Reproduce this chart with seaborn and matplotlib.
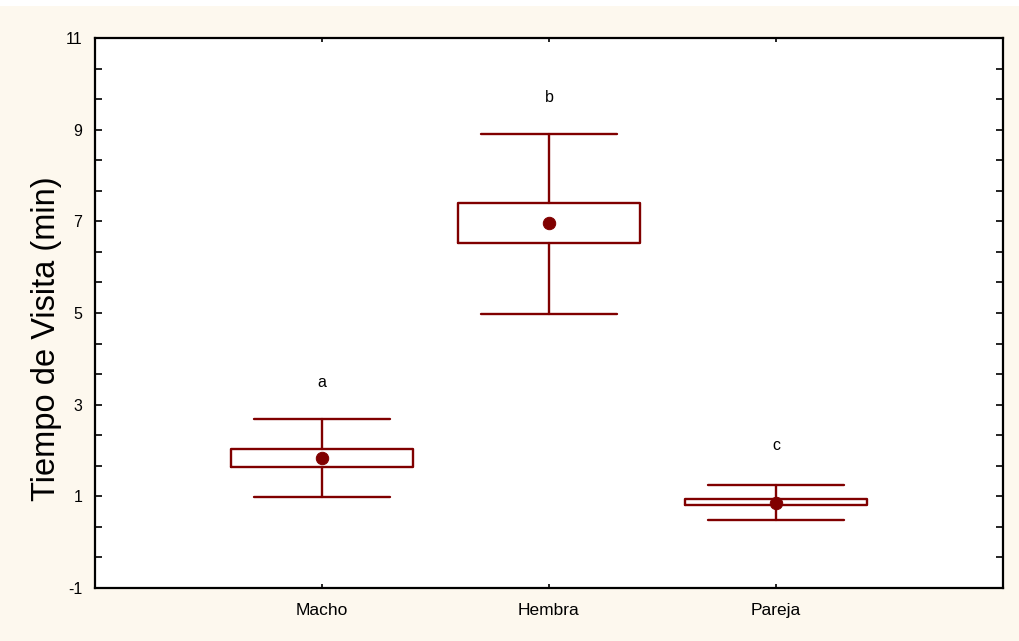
import numpy as np
import pandas as pd
import seaborn as sns
import matplotlib.pyplot as plt
from matplotlib.ticker import FixedLocator

# datos
grupos    = ["Macho", "Hembra", "Pareja"]
medias    = [1.83, 6.96, 0.85]
caja_inf  = [1.65, 6.52, 0.82]
caja_sup  = [2.03, 7.39, 0.95]
bigote_inf = [0.98, 4.97, 0.48]
bigote_sup = [2.68, 8.90, 1.24]
letras    = ["a", "b", "c"]
letras_y  = [3.49, 9.71, 2.11]
y_ticks   = [-1, 1, 3, 5, 7, 9, 11]

ROJO  = "#800000"
CREMA = "#FDF8EE"

sns.set_style("ticks")
plt.rcParams["font.family"] = ["Liberation Sans", "DejaVu Sans"]
plt.rcParams["axes.unicode_minus"] = False
plt.rcParams["text.color"] = "black"
plt.rcParams["xtick.color"] = "black"
plt.rcParams["ytick.color"] = "black"
plt.rcParams["axes.labelcolor"] = "black"

df = pd.DataFrame({"grupo": grupos, "media": medias})

fig = plt.figure(figsize=(10.2, 6.41), dpi=100, facecolor=CREMA)
ax = fig.add_axes([0.0931, 0.0827, 0.8902, 0.858])
ax.set_facecolor("white")

stats = []
for i, g in enumerate(grupos):
    stats.append({"label": g, "med": medias[i], "q1": caja_inf[i], "q3": caja_sup[i],
                  "whislo": bigote_inf[i], "whishi": bigote_sup[i], "fliers": []})
line = dict(color=ROJO, linewidth=1.7)
ax.bxp(stats, positions=range(len(grupos)), widths=0.8, showfliers=False,
       boxprops=line, whiskerprops=line, capprops=line,
       medianprops=dict(linewidth=0), capwidths=0.6, manage_ticks=False)

sns.scatterplot(data=df, x="grupo", y="media", color=ROJO, s=80, edgecolor=ROJO,
                zorder=5, ax=ax, legend=False)

for i, (l, y) in enumerate(zip(letras, letras_y)):
    ax.text(i, y, l, ha="center", va="center", fontsize=11.5, color="black")

ax.set_xlim(-1, 3)
ax.set_ylim(-1, 11)
ax.set_xticks(range(len(grupos)))
ax.set_xticklabels(grupos, fontsize=12.5)
ax.set_yticks(y_ticks)
ax.set_yticklabels([str(t) for t in y_ticks])
ax.yaxis.set_minor_locator(FixedLocator(np.arange(-1, 11.01, 2 / 3)))
ax.tick_params(axis="y", which="both", direction="in", right=True, length=5, width=1.2,
               labelsize=11.5, pad=9)
ax.tick_params(axis="x", direction="in", top=True, length=3, width=1.2, pad=11)
ax.set_xlabel("")
ax.set_ylabel("Tiempo de Visita (min)", fontsize=23.5)
ax.yaxis.set_label_coords(-0.036, 0.453)
for s in ax.spines.values():
    s.set_linewidth(1.6)
    s.set_color("black")

# franja blanca superior (recorte de la pagina)
fig.patches.append(plt.Rectangle((0, 1 - 6 / 641), 1, 6 / 641, transform=fig.transFigure,
                                 facecolor="white", edgecolor="none"))

fig.savefig("out.png", dpi=100, facecolor=CREMA)
